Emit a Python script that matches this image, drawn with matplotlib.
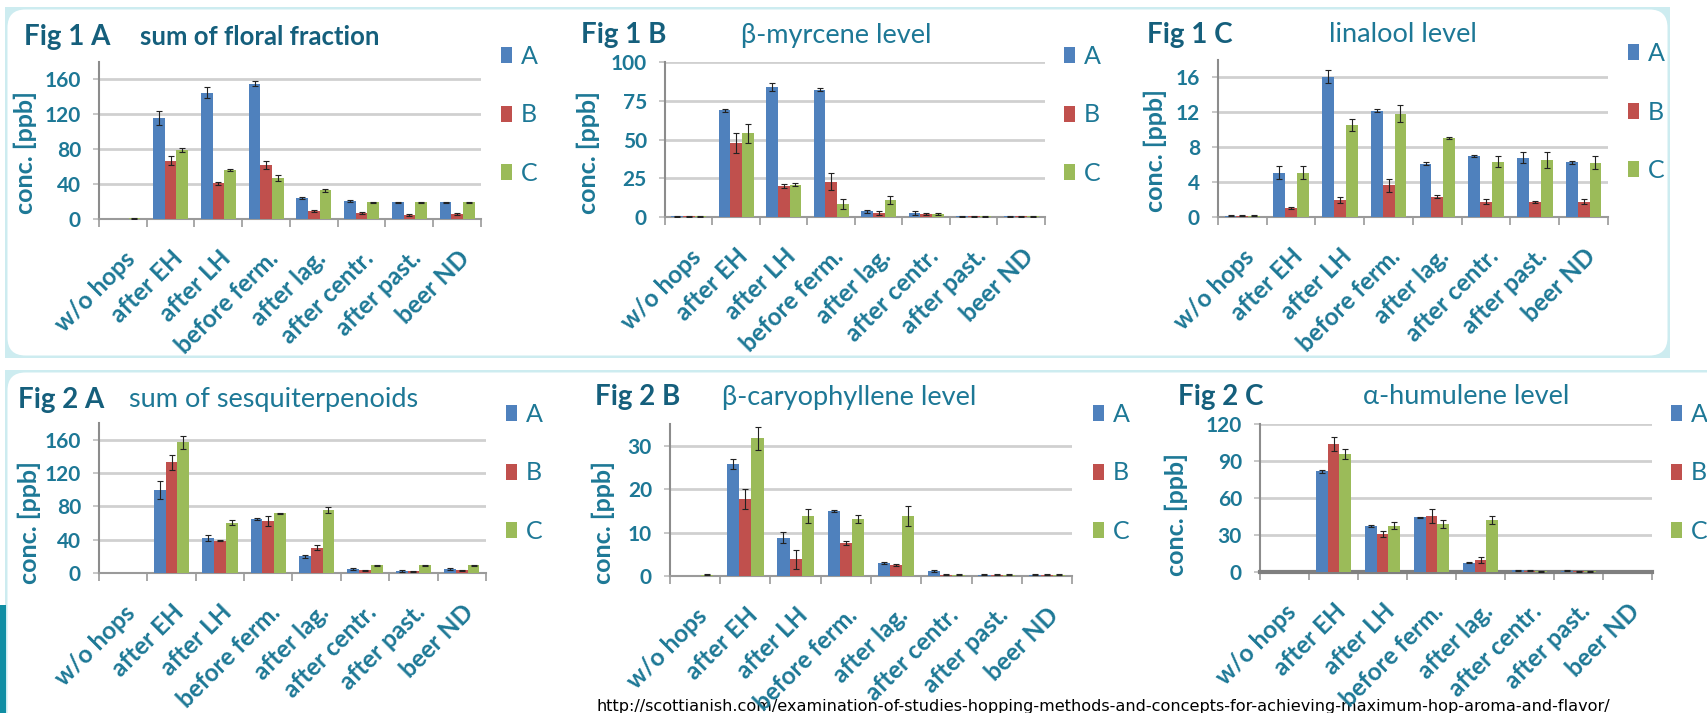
import numpy as np
import matplotlib
matplotlib.use('Agg')
import matplotlib.pyplot as plt
from matplotlib.patches import Patch, Rectangle, FancyBboxPatch
from matplotlib.transforms import IdentityTransform

# categories (sampling points) shared by all six panels
categories = ['w/o hops', 'after EH', 'after LH', 'before ferm.',
              'after lag.', 'after centr.', 'after past.', 'beer ND']
series_names = ['A', 'B', 'C']

# Fig 1 A - sum of floral fraction
floral_A = [0, 116, 145, 155, 24, 21, 19, 19]
floral_B = [0, 67, 41, 62, 9, 7, 5, 6]
floral_C = [1, 79, 56, 47, 33, 19, 19, 19]
floral_errA = [0, 8, 6, 3, 1.5, 1, 1, 1]
floral_errB = [0, 5, 1.5, 5, 1.5, 1, 1, 1]
floral_errC = [0.5, 2.5, 1.5, 4, 1.5, 1, 1, 1]

# Fig 1 B - beta-myrcene level
myrcene_A = [0.4, 69, 84, 82, 3.7, 2.6, 0.4, 0.4]
myrcene_B = [0.4, 48, 20, 22.7, 2.6, 2, 0.4, 0.4]
myrcene_C = [0.4, 54, 20.8, 8.4, 10.8, 2, 0.4, 0.4]
myrcene_errA = [0.2, 1, 2.5, 1, 1, 1, 0.2, 0.2]
myrcene_errB = [0.2, 6.5, 1, 5.5, 1, 0.5, 0.2, 0.2]
myrcene_errC = [0.2, 6, 1, 3, 2.5, 0.5, 0.2, 0.2]

# Fig 1 C - linalool level
linalool_A = [0.15, 5.1, 16.1, 12.2, 6.1, 7.0, 6.8, 6.25]
linalool_B = [0.15, 1.0, 1.95, 3.65, 2.35, 1.75, 1.75, 1.75]
linalool_C = [0.15, 5.1, 10.55, 11.85, 9.1, 6.35, 6.5, 6.2]
linalool_errA = [0.05, 0.75, 0.7, 0.15, 0.15, 0.15, 0.6, 0.15]
linalool_errB = [0.05, 0.1, 0.3, 0.75, 0.2, 0.3, 0.1, 0.3]
linalool_errC = [0.05, 0.75, 0.7, 1.0, 0.1, 0.65, 0.9, 0.75]

# Fig 2 A - sum of sesquiterpenoids
sesqui_A = [0, 99.5, 42, 65, 20, 4.8, 2.8, 4.8]
sesqui_B = [0, 133, 39, 62, 30.6, 3.2, 2, 3.2]
sesqui_C = [0, 157, 60.5, 71.6, 75.6, 9.2, 9.2, 9.2]
sesqui_errA = [0, 11, 4, 1, 1.5, 1, 1, 1]
sesqui_errB = [0, 9, 1, 6, 2.5, 1, 1, 1]
sesqui_errC = [0, 8, 3, 1, 4, 1, 1, 1]

# Fig 2 B - beta-caryophyllene level
caryo_A = [0, 25.8, 8.8, 14.9, 3.05, 1.15, 0.3, 0.3]
caryo_B = [0, 17.8, 3.8, 7.6, 2.5, 0.3, 0.3, 0.3]
caryo_C = [0.3, 31.7, 13.85, 13.1, 13.8, 0.3, 0.3, 0.3]
caryo_errA = [0, 1.1, 1.3, 0.2, 0.2, 0.2, 0.1, 0.1]
caryo_errB = [0, 2.3, 2.3, 0.4, 0.2, 0.1, 0.1, 0.1]
caryo_errC = [0.1, 2.7, 1.6, 1.0, 2.3, 0.1, 0.1, 0.1]

# Fig 2 C - alpha-humulene level
humulene_A = [0, 81.5, 37.5, 44.4, 7.7, 1.5, 1.0, 0.3]
humulene_B = [0, 104, 30.7, 45.2, 9.6, 1.0, 0.5, 0.3]
humulene_C = [0, 95.9, 37.5, 38.9, 41.9, 0.5, 0.5, 0.3]
humulene_errA = [0, 1, 1, 0.5, 0.5, 0.5, 0.3, 0]
humulene_errB = [0, 5.5, 2.7, 5.5, 2.2, 0.3, 0.3, 0]
humulene_errC = [0, 4, 2.7, 3, 3.3, 0.3, 0.3, 0]

url = 'http://scottianish.com/examination-of-studies-hopping-methods-and-concepts-for-achieving-maximum-hop-aroma-and-flavor/'

W, H = 1708, 713
bar_colors = ['#4F81BD', '#C0504D', '#9BBB59']
teal = '#1d7896'
dark_teal = '#155f7c'
plt.rcParams['font.family'] = ['Lato', 'DejaVu Sans']

fig = plt.figure(figsize=(W/100, H/100), dpi=100)
fig.patch.set_facecolor('white')

# slide background: two rounded white panels with a light cyan rim
for (x0, y0, x1, y1) in [(5, 7, 1670, 358), (5, 370, 1730, 740)]:
    fig.add_artist(Rectangle((x0, H - y1), x1 - x0, y1 - y0, transform=IdentityTransform(),
                             facecolor='#cdecf0', edgecolor='none', zorder=-6))
    fig.add_artist(FancyBboxPatch((x0 + 2.5, H - y1 + 2.5), x1 - x0 - 5, y1 - y0 - 5,
                                  boxstyle='round,pad=0,rounding_size=18', transform=IdentityTransform(),
                                  facecolor='white', edgecolor='none', zorder=-5))
fig.add_artist(Rectangle((0, 0), 6, H - 605, transform=IdentityTransform(),
                         facecolor='#0f8ea4', edgecolor='none', zorder=-4))

fig.text(597/W, 1 - 706/H, url, family='DejaVu Sans', fontsize=11.6, color='black',
         va='center', ha='left', zorder=-1)


def ftext(x, y, s, **kw):
    fig.text(x/W, 1 - y/H, s, **kw)


def draw_panel(box, vals, errs, ymax, yticks, fig_label, title, title_x, title_bold,
               label_xy, legend_pos, thick_base=False):
    left, top, right, bottom = box
    ax = fig.add_axes([left/W, 1 - bottom/H, (right - left)/W, (bottom - top)/H])
    ax.set_facecolor('none')
    x = np.arange(len(categories))
    w = 0.243
    for k in range(3):
        e = np.array(errs[k], dtype=float)
        e[e == 0] = np.nan   # no error bar where none is drawn
        ax.bar(x + (k - 1)*w, vals[k], w, color=bar_colors[k], yerr=e, capsize=2,
               error_kw=dict(ecolor='#222222', elinewidth=0.8, capthick=0.8), zorder=3)
    ax.set_xlim(-0.5, len(categories) - 0.5)
    ax.set_ylim(0, ymax)
    ax.set_yticks(yticks)
    ax.yaxis.grid(True, color='#d0d0d0', linewidth=2)
    ax.set_axisbelow(True)
    for s in ['top', 'right']:
        ax.spines[s].set_visible(False)
    ax.spines['left'].set_color('#8c8c8c')
    ax.spines['left'].set_linewidth(1.5)
    ax.spines['bottom'].set_color('#7f7f7f' if thick_base else '#9a9a9a')
    ax.spines['bottom'].set_linewidth(3 if thick_base else 1.5)
    ax.set_xticks(x)
    ax.set_xticklabels(categories, rotation=45, ha='right', va='top', rotation_mode='anchor',
                       fontsize=17.5, fontweight='bold', color=teal)
    ax.set_xticks(np.arange(-0.5, len(categories), 1), minor=True)
    ax.tick_params(axis='x', which='major', length=0, pad=20)
    ax.tick_params(axis='x', which='minor', length=6, width=1.2, color='#9a9a9a')
    ax.tick_params(axis='y', length=4, width=1.2, color='#bdbdbd', pad=9,
                   labelsize=15, labelcolor=teal)
    for t in ax.get_yticklabels():
        t.set_fontweight('bold')

    ftext(fig_label[0], fig_label[1], fig_label[2], fontsize=20, fontweight='bold',
          color=dark_teal, va='center', ha='left')
    ftext(title_x, fig_label[1], title, fontsize=18.5 if title_bold else 19.5,
          fontweight='bold' if title_bold else 'normal',
          color=dark_teal if title_bold else teal, va='center', ha='left')
    ftext(label_xy[0], label_xy[1], 'conc. [ppb]', rotation=90, fontsize=18,
          fontweight='bold', color=teal, va='center', ha='center')

    handles = [Patch(facecolor=bar_colors[k], label=series_names[k]) for k in range(3)]
    ax.legend(handles=handles, loc='center left', bbox_to_anchor=(legend_pos[0]/W, 1 - legend_pos[1]/H),
              bbox_transform=fig.transFigure, frameon=False, fontsize=18, labelcolor=teal,
              labelspacing=1.42, handlelength=0.45, handleheight=0.6, handletextpad=0.35,
              borderpad=0, borderaxespad=0)
    return ax


draw_panel((99, 62, 481, 219), [floral_A, floral_B, floral_C], [floral_errA, floral_errB, floral_errC],
           180, [0, 40, 80, 120, 160], (24, 37, 'Fig 1 A'), 'sum of floral fraction', 140, True,
           (25, 152), (501, 115))
draw_panel((665, 62, 1045, 217), [myrcene_A, myrcene_B, myrcene_C], [myrcene_errA, myrcene_errB, myrcene_errC],
           100, [0, 25, 50, 75, 100], (581, 35, 'Fig 1 B'), '\u03b2-myrcene level', 741, False,
           (588, 152), (1064, 115))
draw_panel((1218, 60, 1608, 217), [linalool_A, linalool_B, linalool_C], [linalool_errA, linalool_errB, linalool_errC],
           18, [0, 4, 8, 12, 16], (1147, 35, 'Fig 1 C'), 'linalool level', 1329, False,
           (1155, 151), (1628, 112))
draw_panel((99, 423, 486, 573), [sesqui_A, sesqui_B, sesqui_C], [sesqui_errA, sesqui_errB, sesqui_errC],
           180, [0, 40, 80, 120, 160], (18, 400, 'Fig 2 A'), 'sum of sesquiterpenoids', 129, False,
           (29, 523), (506, 473))
draw_panel((670, 424, 1072, 576), [caryo_A, caryo_B, caryo_C], [caryo_errA, caryo_errB, caryo_errC],
           35, [0, 10, 20, 30], (595, 397, 'Fig 2 B'), '\u03b2-caryophyllene level', 722, False,
           (603, 522), (1093, 473))
draw_panel((1260, 424, 1652, 572), [humulene_A, humulene_B, humulene_C], [humulene_errA, humulene_errB, humulene_errC],
           120, [0, 30, 60, 90, 120], (1178, 397, 'Fig 2 C'), '\u03b1-humulene level', 1363, False,
           (1176, 514), (1671, 473), thick_base=True)

fig.savefig('out.png', dpi=100)
